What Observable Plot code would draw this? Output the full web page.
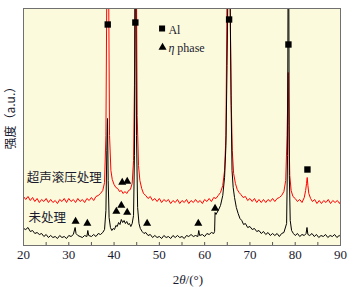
<!DOCTYPE html>
<html><head><meta charset="utf-8">
<script src="https://cdn.jsdelivr.net/npm/d3@7"></script>
<script src="https://cdn.jsdelivr.net/npm/@observablehq/plot@0.6"></script>
<style>body{margin:0;background:#fff}</style>
</head><body><div id="chart"></div>
<script>
// Untreated (black) curve: 2θ and intensity
const blackX = [20,20.5,21,21.5,22,22.5,23,23.5,24,24.5,25,25.5,26,26.5,27,27.5,28,28.5,29,29.5,30,30.5,31,31.4,31.6,32,32.5,33,33.5,34,34.2,34.4,35,35.5,36,36.5,37,37.5,37.9,38.2,38.4,38.55,38.7,38.9,39.2,39.5,39.8,40.1,40.4,40.7,41,41.3,41.6,41.9,42.2,42.5,42.8,43.1,43.4,43.7,44,44.3,44.5,44.65,44.8,44.95,45.2,45.5,45.8,46.2,46.6,47,47.5,48,48.5,49,49.5,50,50.5,51,51.5,52,52.5,53,53.5,54,54.5,55,55.5,56,56.5,57,57.5,58,58.5,58.7,58.9,59.5,60,60.5,61,61.5,62,62.2,62.3,62.5,63,63.5,64,64.4,64.7,64.95,65.15,65.6,65.85,66.05,66.3,66.6,67,67.4,67.8,68.2,68.6,69,69.5,70,70.5,71,71.5,72,72.5,73,73.5,74,74.5,75,75.5,76,76.5,77,77.5,78.1,78.3,78.42,78.58,78.7,78.9,79.2,79.6,80,80.5,81,81.5,82,82.4,82.6,82.8,83.2,83.7,84.2,84.7,85.2,85.7,86.2,86.7,87.2,87.7,88.2,88.7,89.2,89.7,90];
const blackY = [17,16,18,14,15,12,13,11,12,9,11,8,10,8,9,7,10,8,9,7,10,9,11,18,12,10,9,8,10,9,15,10,9,11,9,12,11,13,16,35,95,127,65,28,18,15,17,16,20,19,23,21,26,23,25,22,24,21,22,19,22,30,90,260,260,110,38,22,17,14,12,13,10,11,8,10,8,9,7,10,8,9,7,10,8,10,8,9,7,10,9,11,9,10,9,15,10,11,9,12,11,13,12,14,33,31,35,40,50,68,100,180,260,260,140,75,58,48,38,32,27,25,21,22,18,19,16,17,14,15,12,14,11,13,10,12,10,12,9,12,13,22,90,260,260,70,25,15,12,10,12,9,11,10,12,18,11,10,12,9,11,8,10,9,11,8,10,9,11,8,10,9];

// Ultrasonic rolling (red) curve
const redX = [20,20.5,21,21.5,22,22.5,23,23.5,24,24.5,25,25.5,26,26.5,27,27.5,28,28.5,29,29.5,30,30.5,31,31.5,32,32.5,33,33.5,34,34.5,35,35.5,36,36.5,37,37.5,37.9,38.2,38.4,38.8,39,39.3,39.6,40,40.4,40.8,41.2,41.6,42,42.4,42.8,43.2,43.6,44,44.3,44.5,44.6,44.95,45.1,45.4,45.7,46.1,46.5,47,47.5,48,48.5,49,49.5,50,50.5,51,51.5,52,52.5,53,53.5,54,54.5,55,55.5,56,56.5,57,57.5,58,58.5,59,59.5,60,60.5,61,61.5,62,62.5,63,63.5,64,64.4,64.7,64.95,65.6,65.85,66.1,66.4,66.8,67.2,67.6,68,68.5,69,69.5,70,70.5,71,71.5,72,72.5,73,73.5,74,74.5,75,75.5,76,76.5,77,77.5,77.9,78.2,78.45,78.6,78.8,79.1,79.5,80,80.5,81,81.5,82,82.3,82.5,82.65,82.8,83,83.4,83.8,84.3,84.8,85.3,85.8,86.3,86.8,87.3,87.8,88.3,88.8,89.3,89.8,90];
const redY = [49,46,49,45,48,44,47,43,46,44,47,43,46,43,45,42,46,44,47,43,47,44,46,43,47,44,46,43,47,45,48,45,49,50,52,55,63,110,260,260,110,75,66,61,58,57,54,55,52,54,52,55,56,62,85,160,260,260,130,80,65,57,52,50,47,49,45,47,44,47,43,46,44,46,42,45,43,46,42,45,43,46,42,45,43,46,43,45,42,46,44,47,44,48,47,50,53,60,75,110,260,260,150,95,72,62,56,53,51,48,49,45,47,44,47,43,46,43,46,43,46,44,47,44,47,48,50,54,65,110,173,120,70,55,49,47,44,46,43,48,55,62,68,60,52,47,44,46,42,45,42,45,43,46,42,45,43,45,42,44];

// Peak markers
const alX = [38.6, 44.7, 65.4, 78.5, 82.7];
const alY = [221, 223, 226, 201, 76];
const etaBlackX = [31.5, 34.1, 40.5, 41.6, 42.9, 47.3, 58.6, 62.3];
const etaBlackY = [24, 22, 34, 40, 33, 22, 22, 37];
const etaRedX = [41.8, 42.9];
const etaRedY = [63, 64];

const xTickLabels = [20, 30, 40, 50, 60, 70, 80, 90];
const xMinorTicks = [20,25,30,35,40,45,50,55,60,65,70,75,80,85,90];
const legendLabels = ["Al", "η phase"];
const curveLabels = ["超声滚压处理", "未处理"];

const black = blackX.map((x, i) => ({x, y: blackY[i]}));
const red = redX.map((x, i) => ({x, y: redY[i]}));
const al = alX.map((x, i) => ({x, y: alY[i]}));
const eta = etaBlackX.map((x, i) => ({x, y: etaBlackY[i]}))
  .concat(etaRedX.map((x, i) => ({x, y: etaRedY[i]})));

const serif = "'Liberation Serif', 'DejaVu Serif', serif";
const cjk = "'Noto Sans CJK SC', sans-serif";

const svg = Plot.plot({
  width: 355, height: 287,
  marginLeft: 23, marginRight: 15, marginTop: 8, marginBottom: 42,
  style: {fontFamily: serif, background: "#fff", color: "#1a1a2e"},
  x: {domain: [20, 90]},
  y: {domain: [0, 237]},
  marks: [
    Plot.frame({fill: "#fcfadc"}),
    Plot.line(red, {x: "x", y: "y", stroke: "#ff0000", strokeWidth: 1, clip: true}),
    Plot.line(black, {x: "x", y: "y", stroke: "#000", strokeWidth: 1, clip: true}),
    Plot.dot(al, {x: "x", y: "y", symbol: "square", r: 3.6, fill: "#000", stroke: null}),
    Plot.dot(eta, {x: "x", y: "y", symbol: "triangle", r: 3, fill: "#000", stroke: null}),
    Plot.ruleX(xMinorTicks, {y1: 0, y2: 3, stroke: "#555"}),
    Plot.frame({stroke: "#707070", strokeWidth: 1}),
    Plot.axisX({ticks: xTickLabels, tickSize: 0, tickPadding: 4, fontSize: 13, label: null, tickFormat: d => String(d)}),
    Plot.axisY({ticks: [], label: null}),
    // legend
    Plot.dot([{x: 50.6, y: 217}], {x: "x", y: "y", symbol: "square", r: 3.4, fill: "#000", stroke: null}),
    Plot.dot([{x: 50.7, y: 198}], {x: "x", y: "y", symbol: "triangle", r: 3, fill: "#000", stroke: null}),
    Plot.text([{x: 52.0, y: 215, t: legendLabels[0]}, {x: 52.0, y: 197, t: legendLabels[1]}],
      {x: "x", y: "y", text: "t", textAnchor: "start", fontSize: 12, fill: "#1a1a2e"}),
    // curve labels
    Plot.text([{x: 20.7, y: 68, t: curveLabels[0]}, {x: 21.1, y: 28, t: curveLabels[1]}],
      {x: "x", y: "y", text: "t", textAnchor: "start", fontSize: 12.5, fontFamily: cjk, fill: "#1a1a2e"}),
    // axis titles
    Plot.text([{x: 56.3, y: -34, t: "2θ/(°)"}], {x: "x", y: "y", text: "t", fontSize: 13, fill: "#1a1a2e"}),
    Plot.text([{x: 17.2, y: 96, t: "强度（a.u.）"}], {x: "x", y: "y", text: "t", rotate: -90, textAnchor: "start", fontSize: 12, fontFamily: cjk, fill: "#1a1a2e"})
  ]
});

// italic Greek letters as real text spans
d3.select(svg).selectAll("text").each(function() {
  const t = this.textContent;
  if (t === "2θ/(°)") {
    const s = d3.select(this); s.text(null);
    s.append("tspan").text("2");
    s.append("tspan").attr("font-style", "italic").text("θ");
    s.append("tspan").text("/(°)");
  } else if (t === "η phase") {
    const s = d3.select(this); s.text(null);
    s.append("tspan").attr("font-style", "italic").text("η");
    s.append("tspan").text(" phase");
  }
});

document.getElementById("chart").appendChild(svg);
</script>
</body></html>
